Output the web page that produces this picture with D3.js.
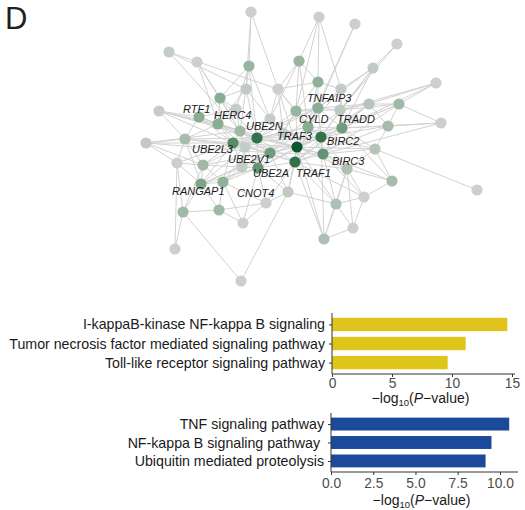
<!DOCTYPE html>
<html>
<head>
<meta charset="utf-8">
<script src="https://cdn.jsdelivr.net/npm/d3@7"></script>
<style>
  html, body { margin: 0; padding: 0; background: #fff; }
  svg { display: block; font-family: "Liberation Sans", Arial, sans-serif; }
</style>
</head>
<body>
<svg id="fig" width="525" height="510"></svg>
<script>
// ---- Network: gene nodes, hub score and interactions ----
const nodeIds = ["p1","p2","p3","p4","p5","p6","p7","p8","p9","p10","p11","p12","p13","p14","p15","p16",
  "RTF1","HERC4","p19","UBE2N","p21","TNFAIP3","CYLD","BIRC2","TRADD","p26","p27","p28","p29","p30",
  "p31","p32","UBE2L3","p34","UBE2V1","TRAF3","TRAF1","BIRC3","p39","p40","p41","UBE2A","RANGAP1","CNOT4",
  "p45","p46","p47","p48","p49","p50","p51","p52","p53","p54","p55","p56","p57","p58","p59","p60","p61","p62"];
const labelledGenes = ["RTF1","HERC4","UBE2N","TNFAIP3","CYLD","TRADD","TRAF3","BIRC2","BIRC3",
  "UBE2L3","UBE2V1","UBE2A","TRAF1","RANGAP1","CNOT4"];
const hubScore = [0.05,0.05,0.05,0.05,0.1,0.05,0.4,0.4,0.12,0.05,0.45,0.1,0.12,0.05,0.5,0.1,
  0.5,0.5,0.35,0.85,0.4,0.5,0.5,0.85,0.6,0.15,0.2,0.35,0.3,0.05,
  0.3,0.12,0.7,0.1,0.6,1.0,0.85,0.65,0.35,0.05,0.1,0.65,0.55,0.45,
  0.12,0.05,0.35,0.35,0.05,0.2,0.25,0.3,0.05,0.25,0.05,0.25,0.05,0.05,0.05,0.1,0.1,0.1];
// layout coordinates (layout units)
const layoutX = [111,179,215,257,29,57,109,159,233,296,178,201,106,138,80,19,
  59,78,100,117,156,178,168,181,202,200,229,259,248,301,
  45,6,93,105,130,157,155,183,63,37,102,118,61,83,
  148,126,43,79,103,235,207,252,224,196,213,184,337,35,101,96,130,143];
const layoutY = [2,7,14,34,42,52,56,51,58,73,72,79,79,79,88,101,
  107,114,121,128,101,98,117,127,118,100,94,94,116,113,
  129,133,133,137,143,137,152,144,155,153,157,158,174,172,
  182,193,202,200,213,139,159,171,187,194,218,229,180,239,271,99,109,123];
// label nudge from node centre [dx, dy]
const labelNudge = {
  RTF1:[-16,-4], HERC4:[-4,-5], UBE2N:[-11,-8], TNFAIP3:[-11,-6], CYLD:[-9,-4], TRADD:[-5,-5],
  TRAF3:[-20,-7], BIRC2:[6,8], BIRC3:[9,11], UBE2L3:[-41,10], UBE2V1:[-42,10], UBE2A:[-5,9],
  TRAF1:[1,15], RANGAP1:[-29,11], CNOT4:[14,15]
};
const interactions = [
  ["p1","p13"],["p1","p14"],["p1","p7"],
  ["p2","p8"],["p2","p11"],["p2","p12"],["p2","p21"],
  ["p3","CYLD"],["p3","TNFAIP3"],
  ["p4","p9"],["p4","p26"],
  ["p5","p13"],["p5","p14"],["p5","p19"],
  ["p6","HERC4"],["p6","p19"],["p6","p15"],
  ["p7","p13"],["p7","p15"],["p7","UBE2N"],["p7","p60"],["p7","p61"],
  ["p8","p14"],["p8","p21"],["p8","p11"],["p8","CYLD"],["p8","p61"],
  ["p9","p26"],["p9","TRADD"],["p9","TNFAIP3"],["p9","BIRC2"],["p9","p12"],
  ["p10","p28"],["p10","p26"],["p10","p27"],["p10","TRADD"],
  ["p11","p14"],["p11","p21"],["p11","TNFAIP3"],["p11","p12"],["p11","CYLD"],
  ["p12","TNFAIP3"],["p12","TRADD"],["p12","CYLD"],["p12","p26"],
  ["p13","p15"],["p13","UBE2N"],["p13","HERC4"],["p13","p19"],["p13","p61"],
  ["p14","p21"],["p14","p61"],["p14","TRAF3"],["p14","CYLD"],["p14","p62"],
  ["p15","RTF1"],["p15","HERC4"],["p15","p19"],["p15","UBE2N"],["p15","p60"],
  ["p16","RTF1"],["p16","HERC4"],["p16","p31"],["p16","UBE2L3"],["p16","p19"],["p16","UBE2N"],
  ["RTF1","HERC4"],["RTF1","p31"],["RTF1","UBE2L3"],["RTF1","p19"],["RTF1","p60"],["RTF1","UBE2N"],
  ["HERC4","p19"],["HERC4","UBE2N"],["HERC4","UBE2L3"],["HERC4","p31"],["HERC4","p60"],["HERC4","p34"],
  ["HERC4","UBE2V1"],["HERC4","TRAF3"],
  ["p19","UBE2N"],["p19","UBE2L3"],["p19","p34"],["p19","p60"],["p19","p61"],["p19","UBE2V1"],
  ["UBE2N","UBE2L3"],["UBE2N","UBE2V1"],["UBE2N","TRAF3"],["UBE2N","TRAF1"],["UBE2N","BIRC2"],
  ["UBE2N","UBE2A"],["UBE2N","p34"],["UBE2N","p61"],["UBE2N","p62"],["UBE2N","CYLD"],
  ["UBE2N","TNFAIP3"],["UBE2N","p21"],["UBE2N","RANGAP1"],["UBE2N","CNOT4"],["UBE2N","p39"],
  ["UBE2N","BIRC3"],["UBE2N","TRADD"],
  ["p21","TNFAIP3"],["p21","CYLD"],["p21","TRAF3"],["p21","BIRC2"],["p21","p62"],["p21","p26"],["p21","UBE2V1"],
  ["TNFAIP3","CYLD"],["TNFAIP3","BIRC2"],["TNFAIP3","TRADD"],["TNFAIP3","TRAF3"],["TNFAIP3","TRAF1"],
  ["TNFAIP3","p26"],["TNFAIP3","UBE2L3"],["TNFAIP3","BIRC3"],["TNFAIP3","p27"],["TNFAIP3","UBE2V1"],
  ["CYLD","BIRC2"],["CYLD","TRAF3"],["CYLD","TRADD"],["CYLD","TRAF1"],["CYLD","BIRC3"],["CYLD","p62"],["CYLD","UBE2V1"],
  ["BIRC2","TRAF3"],["BIRC2","TRADD"],["BIRC2","TRAF1"],["BIRC2","BIRC3"],["BIRC2","p26"],["BIRC2","p27"],
  ["BIRC2","p29"],["BIRC2","UBE2V1"],["BIRC2","p50"],["BIRC2","UBE2A"],["BIRC2","p51"],
  ["TRADD","TRAF3"],["TRADD","TRAF1"],["TRADD","BIRC3"],["TRADD","p26"],["TRADD","p27"],["TRADD","p28"],
  ["TRADD","p29"],["TRADD","p50"],["TRADD","p52"],
  ["p26","p27"],["p26","p28"],["p26","TRAF3"],
  ["p27","p28"],["p27","p29"],["p27","TRAF1"],
  ["p28","p29"],["p28","p30"],["p28","TRAF3"],["p28","BIRC3"],
  ["p29","p30"],["p29","p50"],["p29","TRAF1"],
  ["p30","TRADD"],["p30","BIRC3"],
  ["p31","UBE2L3"],["p31","p32"],["p31","p39"],["p31","p40"],["p31","p34"],["p31","RANGAP1"],["p31","UBE2N"],
  ["p32","UBE2L3"],["p32","p39"],["p32","p19"],["p32","p40"],["p32","UBE2V1"],
  ["UBE2L3","p34"],["UBE2L3","UBE2V1"],["UBE2L3","TRAF3"],["UBE2L3","UBE2A"],["UBE2L3","p39"],["UBE2L3","p41"],
  ["UBE2L3","RANGAP1"],["UBE2L3","CNOT4"],["UBE2L3","TRAF1"],["UBE2L3","p40"],["UBE2L3","BIRC2"],
  ["p34","UBE2V1"],["p34","UBE2A"],["p34","p41"],["p34","TRAF3"],
  ["UBE2V1","TRAF3"],["UBE2V1","TRAF1"],["UBE2V1","UBE2A"],["UBE2V1","p41"],["UBE2V1","CNOT4"],["UBE2V1","p45"],["UBE2V1","BIRC3"],
  ["UBE2V1","RANGAP1"],["UBE2V1","p39"],
  ["TRAF3","TRAF1"],["TRAF3","BIRC3"],["TRAF3","UBE2A"],["TRAF3","p45"],["TRAF3","p51"],["TRAF3","p62"],["TRAF3","p50"],["TRAF3","p54"],
  ["TRAF1","BIRC3"],["TRAF1","UBE2A"],["TRAF1","p45"],["TRAF1","p51"],["TRAF1","p54"],["TRAF1","p56"],["TRAF1","p46"],["TRAF1","p53"],
  ["BIRC3","p50"],["BIRC3","p51"],["BIRC3","p52"],["BIRC3","p53"],["BIRC3","p54"],
  ["p39","RANGAP1"],["p39","CNOT4"],["p39","p40"],["p39","p41"],["p39","p47"],
  ["p40","RANGAP1"],["p40","p47"],["p40","p58"],
  ["p41","UBE2A"],["p41","CNOT4"],["p41","RANGAP1"],
  ["UBE2A","CNOT4"],["UBE2A","p45"],["UBE2A","p46"],["UBE2A","p49"],["UBE2A","RANGAP1"],
  ["RANGAP1","CNOT4"],["RANGAP1","p47"],["RANGAP1","p48"],
  ["CNOT4","p48"],["CNOT4","p49"],["CNOT4","p46"],
  ["p45","p46"],["p45","p54"],["p46","p48"],["p46","p49"],
  ["p47","p48"],["p47","p58"],["p47","p59"],["p48","p49"],
  ["p50","p57"],["p50","p51"],["p50","p52"],
  ["p51","p52"],["p51","p53"],["p51","p54"],["p51","p55"],["p51","p56"],
  ["p52","p53"],["p53","p54"],["p53","p55"],["p54","p55"],["p54","p56"],["p55","p56"],
  ["p56","TRAF3"],["p56","BIRC2"],["p59","p45"]
];

// ---- Enrichment bars ----
const goTerms = ["I-kappaB-kinase NF-kappa B signaling",
  "Tumor necrosis factor mediated signaling pathway",
  "Toll-like receptor signaling pathway"];
const goValues = [14.61, 11.14, 9.64];
const goTicks = [0, 5, 10, 15];
const keggTerms = ["TNF signaling pathway", "NF-kappa B signaling pathway ", "Ubiquitin mediated proteolysis"];
const keggValues = [10.55, 9.5, 9.15];
const keggTicks = [0, 2.5, 5, 7.5, 10];

const svg = d3.select("#fig");

// panel letter
svg.append("text").attr("x", 5).attr("y", 28.5)
  .attr("font-size", 31).attr("fill", "#231f20").text("D");

// ---- network ----
const nx = d3.scaleLinear().domain([0, 350]).range([140, 490]);
const ny = d3.scaleLinear().domain([0, 280]).range([10, 290]);
const nodeColor = d3.scaleLinear().domain([0, 0.5, 1])
  .range(["#d3d4d3", "#8aac92", "#0b592b"]).interpolate(d3.interpolateRgb);

const nodes = nodeIds.map((id, i) => ({ id, score: hubScore[i], x: nx(layoutX[i]), y: ny(layoutY[i]) }));
const byId = new Map(nodes.map(n => [n.id, n]));

const net = svg.append("g");
net.append("g").selectAll("line").data(interactions).join("line")
  .attr("x1", d => byId.get(d[0]).x).attr("y1", d => byId.get(d[0]).y)
  .attr("x2", d => byId.get(d[1]).x).attr("y2", d => byId.get(d[1]).y)
  .attr("stroke", "#d2d2d2").attr("stroke-width", 1);

net.append("g").selectAll("circle").data(nodes).join("circle")
  .attr("cx", d => d.x).attr("cy", d => d.y).attr("r", 5.6)
  .attr("fill", d => nodeColor(d.score));

net.append("g").selectAll("text").data(labelledGenes).join("text")
  .attr("x", d => byId.get(d).x + labelNudge[d][0])
  .attr("y", d => byId.get(d).y + labelNudge[d][1])
  .attr("font-size", 11).attr("font-style", "italic").attr("fill", "#1a1a1a")
  .text(d => d);

// ---- bar panels ----
function barPanel(opts) {
  const { terms, values, ticks, domainMax, x0, x1, y0, y1, color, tickFmt, titleY, tickY } = opts;
  const x = d3.scaleLinear().domain([0, domainMax]).range([x0, x1]);
  const y = d3.scalePoint().domain(terms).range([y0, y1]).padding(0.6);
  const bh = y.step() * 0.7;
  const g = svg.append("g");

  g.selectAll("rect").data(terms).join("rect")
    .attr("x", x(0)).attr("y", d => y(d) - bh / 2)
    .attr("width", (d, i) => x(values[i]) - x(0)).attr("height", bh)
    .attr("fill", color);

  // y axis
  const ya = g.append("g").attr("transform", `translate(${x0},0)`)
    .call(d3.axisLeft(y).tickSize(3).tickPadding(4));
  ya.select(".domain").attr("stroke", "#333").attr("d", `M0,${y0}V${y1}`);
  ya.selectAll(".tick line").attr("stroke", "#333");
  ya.selectAll(".tick text").attr("font-size", 14.2).attr("fill", "#1a1a1a")
    .attr("font-family", "Liberation Sans, Arial, sans-serif")
    .style("white-space", "pre");

  // x axis
  const xa = g.append("g").attr("transform", `translate(0,${y1})`)
    .call(d3.axisBottom(x).tickValues(ticks).tickFormat(tickFmt).tickSize(3).tickPadding(2));
  xa.select(".domain").attr("stroke", "#333").attr("d", `M${x0},0H${x1}`);
  xa.selectAll(".tick line").attr("stroke", "#333");
  xa.selectAll(".tick text").attr("font-size", 13.8).attr("fill", "#4d4d4d")
    .attr("font-family", "Liberation Sans, Arial, sans-serif")
    .attr("dy", null).attr("y", tickY - y1);

  const t = g.append("text").attr("x", (x0 + x1) / 2 - 3).attr("y", titleY)
    .attr("text-anchor", "middle").attr("font-size", 14).attr("fill", "#1a1a1a");
  t.append("tspan").text("\u2212log");
  t.append("tspan").attr("font-size", 9.5).attr("dy", 3).text("10");
  t.append("tspan").attr("dy", -3).text("(");
  t.append("tspan").attr("font-style", "italic").text("P");
  t.append("tspan").text("\u2212value)");
}

barPanel({ terms: goTerms, values: goValues, ticks: goTicks, domainMax: 15.25,
  x0: 332, x1: 515, y0: 313, y1: 374, color: "#dfc41c", tickFmt: d3.format("d"),
  tickY: 388, titleY: 403 });
barPanel({ terms: keggTerms, values: keggValues, ticks: keggTicks, domainMax: 11.07,
  x0: 331, x1: 518, y0: 413, y1: 472, color: "#1b4a9b", tickFmt: d3.format(".1f"),
  tickY: 488, titleY: 505 });
</script>
</body>
</html>
